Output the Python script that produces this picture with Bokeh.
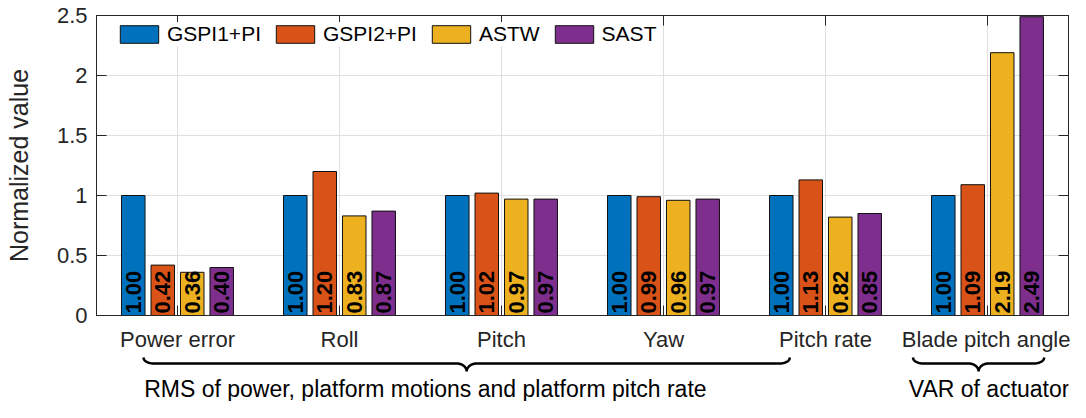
import numpy as np
from math import pi
from bokeh.plotting import figure
from bokeh.models import Range1d, FixedTicker, LinearAxis, Legend, LegendItem, ColumnDataSource, Label
from bokeh.layouts import column
from bokeh.core.properties import value
from bokeh.embed import file_html
from bokeh.resources import INLINE

# ---------------- data ----------------
categories = ["Power error", "Roll", "Pitch", "Yaw", "Pitch rate", "Blade pitch angle"]
series_names = ["GSPI1+PI", "GSPI2+PI", "ASTW", "SAST"]
gspi1_pi = [1.00, 1.00, 1.00, 1.00, 1.00, 1.00]
gspi2_pi = [0.42, 1.20, 1.02, 0.99, 1.13, 1.09]
astw = [0.36, 0.83, 0.97, 0.96, 0.82, 2.19]
sast = [0.40, 0.87, 0.97, 0.97, 0.85, 2.49]
y_ticks = [0, 0.5, 1, 1.5, 2, 2.5]
note_texts = ["RMS of power, platform motions and platform pitch rate", "VAR of actuator"]

# ---------------- style ----------------
colors = ["#0072BD", "#D95319", "#EDB120", "#7E2F8E"]
FONT = "Liberation Sans"
AX = "#262626"
GRID = "#dfdfdf"
FRAME_W, FRAME_H = 972, 300
LEFT, RIGHT, TOP, BOTTOM = 96, 2, 15, 38
n_groups = len(categories)
n_series = len(series_names)
spacing = 0.182
bar_w = 0.145
offsets = [(j - (n_series - 1) / 2) * spacing for j in range(n_series)]
group_x = list(range(1, n_groups + 1))

xr = Range1d(0.5, n_groups + 0.5)
p = figure(frame_width=FRAME_W, frame_height=FRAME_H,
           x_range=xr, y_range=Range1d(0, 2.5),
           output_backend="svg", toolbar_location=None, tools="",
           min_border_left=LEFT, min_border_right=RIGHT,
           min_border_top=TOP, min_border_bottom=BOTTOM,
           background_fill_color="white", border_fill_color="white")
p.outline_line_color = AX
p.outline_line_width = 1

# axes
xt = FixedTicker(ticks=group_x)
yt = FixedTicker(ticks=y_ticks)
p.xaxis.ticker = xt
p.yaxis.ticker = yt
p.xaxis.major_label_overrides = {g: c for g, c in zip(group_x, categories)}
p.yaxis.major_label_overrides = {t: f"{t:g}" for t in y_ticks}
for ax in (p.xaxis[0], p.yaxis[0]):
    ax.major_tick_in = 10
    ax.major_tick_out = 0
    ax.minor_tick_in = 0
    ax.minor_tick_out = 0
    ax.axis_line_color = AX
    ax.major_tick_line_color = AX
    ax.major_label_text_color = AX
    ax.major_label_text_font = FONT
    ax.major_label_text_font_size = "22px"
p.xaxis.major_label_standoff = 11
p.yaxis.major_label_standoff = 9
p.yaxis.axis_label = "Normalized value"
p.yaxis.axis_label_text_font = FONT
p.yaxis.axis_label_text_font_size = "25px"
p.yaxis.axis_label_text_font_style = "normal"
p.yaxis.axis_label_text_color = AX
p.yaxis.axis_label_standoff = 21

# mirrored ticks (box on)
top_ax = LinearAxis(ticker=FixedTicker(ticks=group_x),
                    major_label_overrides={g: "" for g in group_x})
right_ax = LinearAxis(ticker=FixedTicker(ticks=y_ticks),
                      major_label_overrides={t: "" for t in y_ticks})
for ax in (top_ax, right_ax):
    ax.major_tick_in = 10
    ax.major_tick_out = 0
    ax.minor_tick_in = 0
    ax.minor_tick_out = 0
    ax.axis_line_color = AX
    ax.major_tick_line_color = AX
    ax.major_label_standoff = 0
    ax.major_label_text_font_size = "1px"
p.add_layout(top_ax, "above")
p.add_layout(right_ax, "right")

# grid
p.xgrid.ticker = xt
p.ygrid.ticker = yt
p.grid.grid_line_color = GRID
p.grid.grid_line_width = 1

# bars
all_series = [gspi1_pi, gspi2_pi, astw, sast]
items = []
for j, (name, vals) in enumerate(zip(series_names, all_series)):
    src = ColumnDataSource(dict(
        x=[g + offsets[j] for g in group_x],
        top=vals,
        label=[f"{v:.2f}" for v in vals],
    ))
    r = p.vbar(x="x", top="top", width=bar_w, source=src,
               fill_color=colors[j], line_color="#111111", line_width=1)
    p.text(x="x", y=0, text="label", source=src, angle=pi / 2,
           text_align="left", text_baseline="middle", y_offset=-2,
           text_font=value(FONT), text_font_style="bold",
           text_font_size="22px", text_color="black")
    items.append(LegendItem(label=name, renderers=[r]))

legend = Legend(items=items, orientation="horizontal",
                location=(19, FRAME_H - 8 - 23),
                glyph_width=48, glyph_height=22, label_height=22,
                label_standoff=4, spacing=10, padding=0, margin=0,
                label_text_font=FONT, label_text_font_size="21px",
                label_text_color="black",
                background_fill_color="white", background_fill_alpha=1,
                border_line_color=None)
p.add_layout(legend)

# ---------------- braces & notes below the axis ----------------
H2 = 47
px_per_unit = FRAME_W / n_groups
p2 = figure(frame_width=FRAME_W, frame_height=H2,
            x_range=xr, y_range=Range1d(H2, 0),
            output_backend="svg", toolbar_location=None, tools="",
            x_axis_type=None, y_axis_type=None,
            min_border_left=LEFT, min_border_right=RIGHT,
            min_border_top=0, min_border_bottom=0,
            background_fill_color="white", border_fill_color="white")
p2.outline_line_color = None
p2.grid.visible = False

brace_spans = [(0.79, 4.78), (5.54, 6.35)]
note_x = [2.53, 6.01]
y_end, y_line, y_tip, r_px = 3, 9, 17, 10


def brace(x0, x1):
    rx = r_px / px_per_unit
    tip = (x0 + x1) / 2
    t = np.linspace(0, pi / 2, 14)
    s1x = x0 + rx - rx * np.cos(t)
    s1y = y_end + (y_line - y_end) * np.sin(t)
    s2x = tip - rx + rx * np.sin(t)
    s2y = y_tip - (y_tip - y_line) * np.cos(t)
    s3x = tip + rx * (1 - np.cos(t))
    s3y = y_tip - (y_tip - y_line) * np.sin(t)
    s4x = x1 - rx + rx * np.sin(t)
    s4y = y_line + (y_end - y_line) * (1 - np.cos(t))
    return (np.concatenate([s1x, s2x, s3x, s4x]).tolist(),
            np.concatenate([s1y, s2y, s3y, s4y]).tolist())


for (x0, x1) in brace_spans:
    bx, by = brace(x0, x1)
    p2.line(bx, by, line_color="black", line_width=2.5)

for nx, nt in zip(note_x, note_texts):
    p2.add_layout(Label(x=nx, y=34, text=nt, text_align="center",
                        text_baseline="alphabetic", text_font=FONT,
                        text_font_size="23px", text_color="black"))

layout = column(p, p2, spacing=0)
open("out.html", "w").write(file_html(layout, INLINE))
